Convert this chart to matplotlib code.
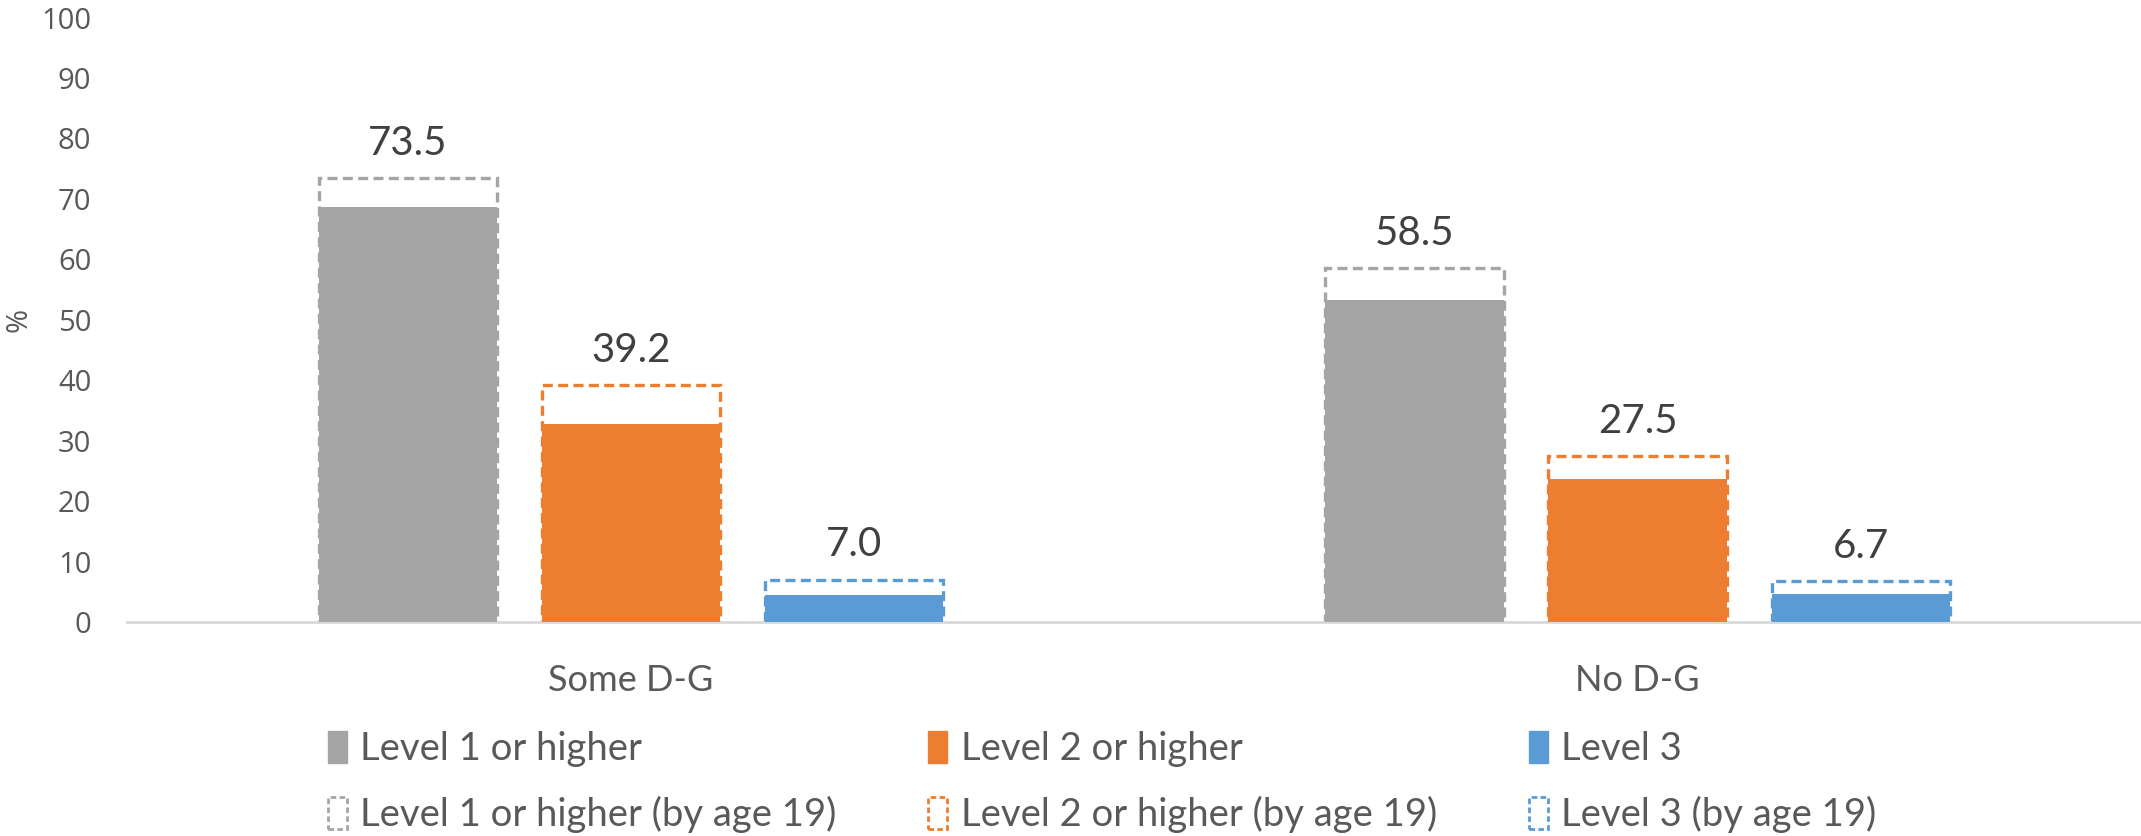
import matplotlib.pyplot as plt
import numpy as np
from matplotlib.patches import Patch

groups = ["Some D-G", "No D-G"]
series = ["Level 1 or higher", "Level 2 or higher", "Level 3"]
colors = ["#A5A5A5", "#ED7D31", "#5B9BD5"]

# achieved at the end of KS4 (solid) and by age 19 (dashed outline)
level1 = [68.7, 53.2]
level2 = [32.8, 23.6]
level3 = [4.5, 4.7]
level1_19 = [73.5, 58.5]
level2_19 = [39.2, 27.5]
level3_19 = [7.0, 6.7]

solid = [level1, level2, level3]
by19 = [level1_19, level2_19, level3_19]

fig = plt.figure(figsize=(21.41, 8.36), dpi=100)
ax = fig.add_axes([0.0595, 0.256, 0.9405, 0.723])

x = np.arange(len(groups))
width = 0.177
step = 0.2215

for i in range(3):
    pos = x + (i - 1) * step
    ax.bar(pos, by19[i], width, facecolor="white", edgecolor=colors[i],
           linestyle=(0, (3, 1.6)), linewidth=2.4, zorder=2)
    ax.bar(pos, solid[i], width, color=colors[i], edgecolor="none", zorder=3)
    for p, v in zip(pos, by19[i]):
        ax.annotate(f"{v:.1f}", (p, v), xytext=(0, 25), textcoords="offset points",
                    ha="center", va="center", fontsize=29, color="#404040",
                    family="Lato")

ax.set_xlim(-0.5, 1.5)
ax.set_ylim(0, 100)
ax.set_yticks(range(0, 101, 10))
ax.set_xticks(x)
ax.set_xticklabels(groups, family="Lato", fontsize=26, color="#595959")
ax.tick_params(axis="x", length=0, pad=30)
ax.tick_params(axis="y", length=0, pad=26, labelsize=21, labelcolor="#595959")
for lab in ax.get_yticklabels():
    lab.set_family("Open Sans")
for s in ["top", "right", "left"]:
    ax.spines[s].set_visible(False)
ax.spines["bottom"].set_color("#D9D9D9")
ax.spines["bottom"].set_linewidth(2)
ax.set_ylabel("%", family="Open Sans", fontsize=21, color="#595959", va="center")
ax.yaxis.set_label_coords(-0.054, 0.5)

handles = []
for i in range(3):
    handles.append(Patch(facecolor=colors[i], edgecolor=colors[i], label=series[i]))
    handles.append(Patch(facecolor="white", edgecolor=colors[i], linestyle=(0, (2, 1.2)),
                         linewidth=2, label=series[i] + " (by age 19)"))
leg = fig.legend(handles=handles, ncol=3, loc="upper left", bbox_to_anchor=(0.146, 0.144),
                 frameon=False, handlelength=0.5, handleheight=0.9, handletextpad=0.35,
                 columnspacing=2.4, labelspacing=0.76, borderaxespad=0,
                 prop={"family": "Lato", "size": 27.5})
for t in leg.get_texts():
    t.set_color("#595959")

fig.savefig("out.png", dpi=100)
